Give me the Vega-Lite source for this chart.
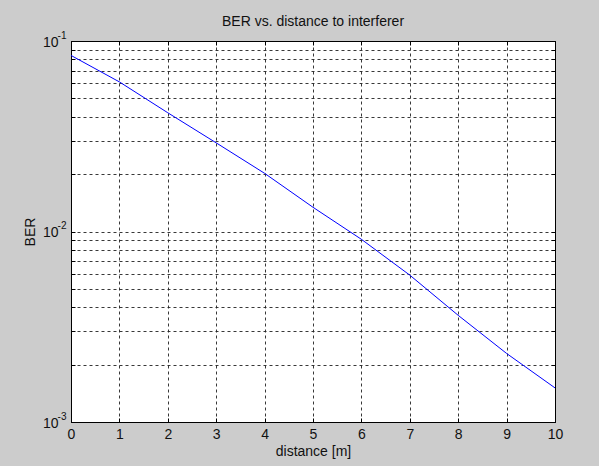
{
  "$schema": "https://vega.github.io/schema/vega-lite/v6.json",
  "width": 484,
  "height": 381,
  "autosize": "none",
  "padding": {"left": 71, "top": 41, "right": 44, "bottom": 44},
  "background": "#cccccc",
  "title": {"text": "BER vs. distance to interferer", "font": "Liberation Sans", "fontSize": 14, "fontWeight": "normal", "color": "#111111", "offset": 4, "dy": 3},
  "data": {"values": [
    {"distance": 0, "ber": 0.084},
    {"distance": 1, "ber": 0.061},
    {"distance": 2, "ber": 0.042},
    {"distance": 3, "ber": 0.0292},
    {"distance": 4, "ber": 0.0202},
    {"distance": 5, "ber": 0.0134},
    {"distance": 6, "ber": 0.0091},
    {"distance": 7, "ber": 0.0059},
    {"distance": 8, "ber": 0.00363},
    {"distance": 9, "ber": 0.00229},
    {"distance": 10, "ber": 0.00151}
  ]},
  "layer": [
    {
      "mark": {"type": "line", "color": "#0000ff", "strokeWidth": 1},
      "encoding": {
        "x": {"field": "distance", "type": "quantitative",
          "scale": {"domain": [0, 10], "nice": false, "zero": false},
          "axis": {"orient": "bottom", "title": "distance [m]", "values": [0,1,2,3,4,5,6,7,8,9,10], "grid": true, "labelPadding": 9, "titlePadding": 3}},
        "y": {"field": "ber", "type": "quantitative",
          "scale": {"type": "log", "domain": [0.001, 0.1], "nice": false},
          "axis": {"orient": "left", "title": "BER", "grid": true,
            "values": [0.001,0.002,0.003,0.004,0.005,0.006,0.007,0.008,0.009,0.01,0.02,0.03,0.04,0.05,0.06,0.07,0.08,0.09,0.1],
            "labelExpr": "(datum.value > 0.0009 && datum.value < 0.0011) || (datum.value > 0.0095 && datum.value < 0.011) || (datum.value > 0.095) ? '10' : ''",
            "labelPadding": 17, "labelOffset": 1, "titlePadding": 5}}
      }
    },
    {
      "mark": {"type": "line", "opacity": 0},
      "encoding": {
        "x": {"field": "distance", "type": "quantitative",
          "axis": {"orient": "top", "title": null, "labels": false, "grid": false, "values": [0,1,2,3,4,5,6,7,8,9,10]}},
        "y": {"field": "ber", "type": "quantitative",
          "axis": {"orient": "right", "title": null, "labels": false, "grid": false,
            "values": [0.001,0.002,0.003,0.004,0.005,0.006,0.007,0.008,0.009,0.01,0.02,0.03,0.04,0.05,0.06,0.07,0.08,0.09,0.1]}}
      }
    },
    {
      "mark": {"type": "line", "opacity": 0},
      "encoding": {
        "y": {"field": "ber", "type": "quantitative",
          "axis": {"orient": "left", "title": null, "grid": false, "ticks": false, "domain": false,
            "values": [0.001, 0.01, 0.1],
            "labelExpr": "datum.value < 0.0011 ? '-3' : datum.value < 0.011 ? '-2' : '-1'",
            "labelFontSize": 10, "labelPadding": 5, "labelOffset": -6}}
      }
    }
  ],
  "resolve": {"axis": {"x": "independent", "y": "independent"}},
  "config": {
    "view": {"fill": "white", "stroke": "black", "strokeWidth": 1},
    "axis": {
      "domain": true, "domainColor": "black", "domainWidth": 1,
      "ticks": true, "tickColor": "black", "tickSize": -4, "tickWidth": 1,
      "gridColor": "#222222", "gridDash": [3, 3], "gridWidth": 1, "gridOpacity": 0.9,
      "labelFont": "Liberation Sans", "labelFontSize": 14, "labelColor": "#111111",
      "titleFont": "Liberation Sans", "titleFontSize": 14, "titleFontWeight": "normal", "titleColor": "#111111",
      "labelFlush": false, "labelOverlap": false
    }
  }
}
